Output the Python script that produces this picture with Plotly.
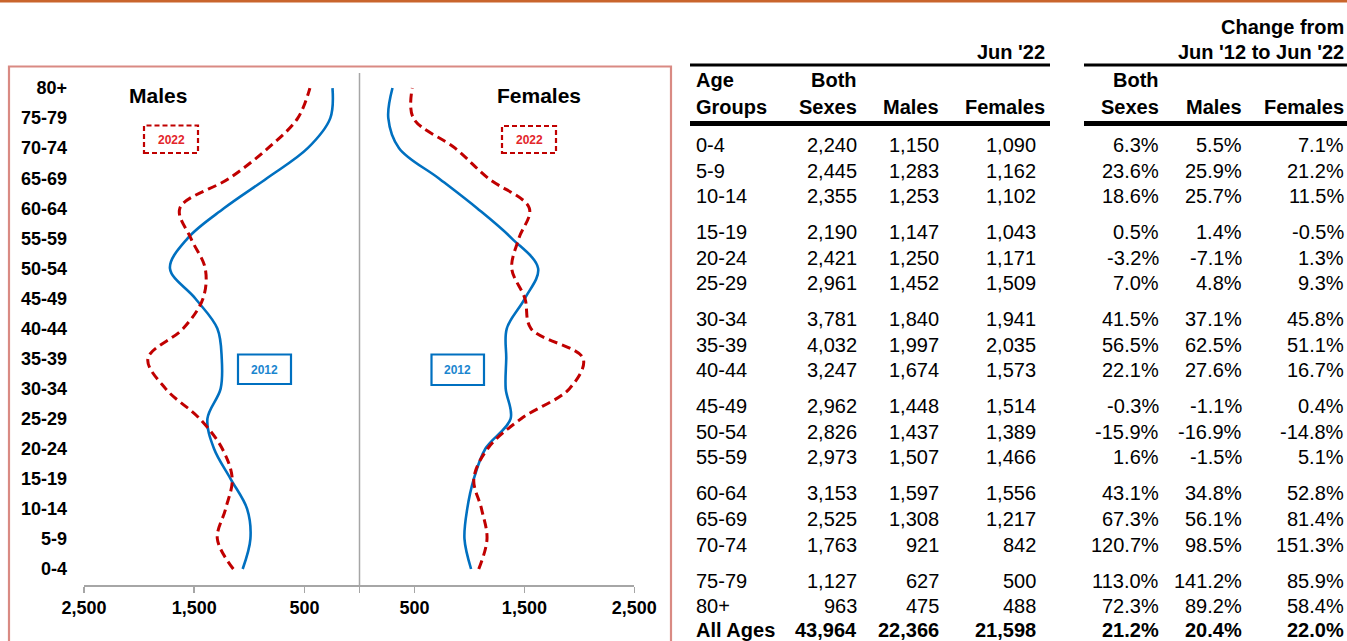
import plotly.graph_objects as go

W, H = 1347, 641

# ---------------- data ----------------
age_groups = ['0-4', '5-9', '10-14', '15-19', '20-24', '25-29', '30-34', '35-39', '40-44',
              '45-49', '50-54', '55-59', '60-64', '65-69', '70-74', '75-79', '80+']

# chart series
males_2022_chart = [1145, 1290, 1215, 1155, 1245, 1450, 1760, 1920, 1600, 1420, 1400, 1530, 1630, 1180, 830, 560, 450]
males_2012_chart = [1060, 990, 1020, 1170, 1320, 1380, 1260, 1250, 1290, 1490, 1720, 1560, 1230, 840, 470, 265, 245]
females_2022_chart = [1085, 1160, 1110, 1040, 1165, 1470, 1910, 2035, 1560, 1505, 1385, 1450, 1545, 1170, 870, 490, 480]
females_2012_chart = [1015, 955, 980, 1040, 1145, 1375, 1330, 1335, 1340, 1505, 1625, 1385, 1070, 720, 360, 262, 300]

x_tickvals = [0, 500, 1500, 2500]
x_ticktext = ['', '500', '1,500', '2,500']

# table values
both_22 = [2240, 2445, 2355, 2190, 2421, 2961, 3781, 4032, 3247, 2962, 2826, 2973, 3153, 2525, 1763, 1127, 963]
males_22 = [1150, 1283, 1253, 1147, 1250, 1452, 1840, 1997, 1674, 1448, 1437, 1507, 1597, 1308, 921, 627, 475]
females_22 = [1090, 1162, 1102, 1043, 1171, 1509, 1941, 2035, 1573, 1514, 1389, 1466, 1556, 1217, 842, 500, 488]
chg_both = [6.3, 23.6, 18.6, 0.5, -3.2, 7.0, 41.5, 56.5, 22.1, -0.3, -15.9, 1.6, 43.1, 67.3, 120.7, 113.0, 72.3]
chg_males = [5.5, 25.9, 25.7, 1.4, -7.1, 4.8, 37.1, 62.5, 27.6, -1.1, -16.9, -1.5, 34.8, 56.1, 98.5, 141.2, 89.2]
chg_females = [7.1, 21.2, 11.5, -0.5, 1.3, 9.3, 45.8, 51.1, 16.7, 0.4, -14.8, 5.1, 52.8, 81.4, 151.3, 85.9, 58.4]
total_label = 'All Ages'
total_22 = [43964, 22366, 21598]
total_chg = [21.2, 20.4, 22.0]

# ---------------- styling ----------------
FONT = 'Arial, Liberation Sans, sans-serif'
BLUE = '#0070C0'
RED = '#C00000'
GRAY = '#A6A6A6'


def px(x):
    return x / W


def py(y):
    return (H - y) / H


fig = go.Figure()
ypos = list(range(len(age_groups)))

fig.add_trace(go.Scatter(x=males_2012_chart, y=ypos, xaxis='x', yaxis='y', mode='lines',
                         line=dict(color=BLUE, width=2.6, shape='spline', smoothing=1.0),
                         showlegend=False, hoverinfo='skip'))
fig.add_trace(go.Scatter(x=males_2022_chart, y=ypos, xaxis='x', yaxis='y', mode='lines',
                         line=dict(color=RED, width=3, shape='spline', smoothing=1.0, dash='9px,5px'),
                         showlegend=False, hoverinfo='skip'))
fig.add_trace(go.Scatter(x=females_2012_chart, y=ypos, xaxis='x2', yaxis='y', mode='lines',
                         line=dict(color=BLUE, width=2.6, shape='spline', smoothing=1.0),
                         showlegend=False, hoverinfo='skip'))
fig.add_trace(go.Scatter(x=females_2022_chart, y=ypos, xaxis='x2', yaxis='y', mode='lines',
                         line=dict(color=RED, width=3, shape='spline', smoothing=1.0, dash='9px,5px'),
                         showlegend=False, hoverinfo='skip'))

axis_common = dict(showgrid=False, zeroline=False, showline=True, linecolor=GRAY, linewidth=1.5,
                   ticks='outside', ticklen=6, tickcolor=GRAY, tickwidth=1.5,
                   tickvals=x_tickvals, ticktext=x_ticktext,
                   tickfont=dict(family=FONT, size=18, color='black', weight='bold'),
                   fixedrange=True, anchor='y', automargin=False)

y_bottom, y_top = 585, 73
k0_px, step = 569, 30.06
yr = [(k0_px - y_bottom) / step, (k0_px - y_top) / step]

fig.update_layout(
    template='none',
    width=W, height=H, margin=dict(l=0, r=0, t=0, b=0, pad=0, autoexpand=False),
    paper_bgcolor='white', plot_bgcolor='rgba(0,0,0,0)',
    xaxis=dict(domain=[px(84), px(359.5)], range=[2500, 0], **axis_common),
    xaxis2=dict(domain=[px(359.5), px(634.3)], range=[0, 2500], **axis_common),
    yaxis=dict(domain=[py(y_bottom), py(y_top)], range=yr, showgrid=False, zeroline=False,
               showline=False, ticks='', tickvals=ypos, ticktext=age_groups,
               tickfont=dict(family=FONT, size=18, color='black', weight='bold'),
               ticklabelstandoff=16, fixedrange=True, anchor='x', automargin=False),
    font=dict(family=FONT, color='black'),
)

shapes = []
# orange top rule
shapes.append(dict(type='rect', xref='paper', yref='paper', x0=0, x1=1, y0=py(2.5), y1=py(-1),
                   fillcolor='#C9652C', line=dict(width=0)))
# chart frame
shapes.append(dict(type='rect', xref='paper', yref='paper', x0=px(9), x1=px(671), y0=py(660), y1=py(66.5),
                   line=dict(color='#D98A83', width=2.2)))
# center divider
shapes.append(dict(type='line', xref='paper', yref='paper', x0=px(359.5), x1=px(359.5),
                   y0=py(y_bottom), y1=py(y_top), line=dict(color=GRAY, width=1.5)))
# legend boxes
for (x0, x1, y0, y1) in [(144, 198, 125.5, 153), (502, 556, 126, 153)]:
    shapes.append(dict(type='rect', xref='paper', yref='paper', x0=px(x0), x1=px(x1), y0=py(y1), y1=py(y0),
                       line=dict(color=RED, width=2.2, dash='5px,3px')))
for (x0, x1, y0, y1) in [(238, 291, 354.5, 384), (431.5, 484, 354.5, 385)]:
    shapes.append(dict(type='rect', xref='paper', yref='paper', x0=px(x0), x1=px(x1), y0=py(y1), y1=py(y0),
                       line=dict(color=BLUE, width=2.2)))
# table rules
for (x0, x1, y, lw) in [(690, 1050, 65, 3), (1084, 1347, 65, 3), (690, 1050, 123.5, 5), (1084, 1347, 123.5, 5)]:
    shapes.append(dict(type='line', xref='paper', yref='paper', x0=px(x0), x1=px(x1), y0=py(y), y1=py(y),
                       line=dict(color='black', width=lw)))
fig.update_layout(shapes=shapes)

ann = []


def text(x, y, s, anchor='right', size=20, bold=False, color='black'):
    ann.append(dict(xref='paper', yref='paper', x=px(x), y=py(y), text=s, showarrow=False,
                    xanchor=anchor, yanchor='middle',
                    font=dict(family=FONT, size=size, color=color, weight='bold' if bold else 'normal')))


# chart titles and legend labels
text(158, 95, 'Males', anchor='center', size=21, bold=True)
text(539, 95, 'Females', anchor='center', size=21, bold=True)
text(171, 139.5, '2022', anchor='center', size=12, bold=True, color='#E3262B')
text(529, 139.5, '2022', anchor='center', size=12, bold=True, color='#E3262B')
text(264.5, 369.5, '2012', anchor='center', size=12, bold=True, color='#1B86CF')
text(457.7, 370, '2012', anchor='center', size=12, bold=True, color='#1B86CF')

# table headers
text(1345.5, 27, 'Change from', bold=True)
text(1047, 52, "Jun '22", bold=True)
text(1345.5, 52, "Jun '12 to Jun '22", bold=True)
text(694, 80, 'Age', anchor='left', bold=True)
text(694, 107, 'Groups', anchor='left', bold=True)
text(858.5, 80, 'Both', bold=True)
text(858.5, 107, 'Sexes', bold=True)
text(941, 107, 'Males', bold=True)
text(1047, 107, 'Females', bold=True)
text(1161, 80, 'Both', bold=True)
text(1161, 107, 'Sexes', bold=True)
text(1243.5, 107, 'Males', bold=True)
text(1345.5, 107, 'Females', bold=True)

col_num = [858.5, 940.5, 1038]
col_pct = [1161, 1243.5, 1345.5]

for i, ag in enumerate(age_groups):
    g, r = divmod(i, 3)
    y = 145 + g * 87.1 + r * 25.6
    text(694, y, ag, anchor='left')
    for xr, v in zip(col_num, [both_22[i], males_22[i], females_22[i]]):
        text(xr, y, f'{v:,}')
    for xr, v in zip(col_pct, [chg_both[i], chg_males[i], chg_females[i]]):
        text(xr, y, f'{v:.1f}%')

yt = 630
text(694, yt, total_label, anchor='left', bold=True)
for xr, v in zip(col_num, total_22):
    text(xr, yt, f'{v:,}', bold=True)
for xr, v in zip(col_pct, total_chg):
    text(xr, yt, f'{v:.1f}%', bold=True)

fig.update_layout(annotations=ann)

fig.write_html('out.html', config={'displayModeBar': False, 'staticPlot': True},
               post_script="document.body.style.margin='0';document.body.style.overflow='hidden';")
